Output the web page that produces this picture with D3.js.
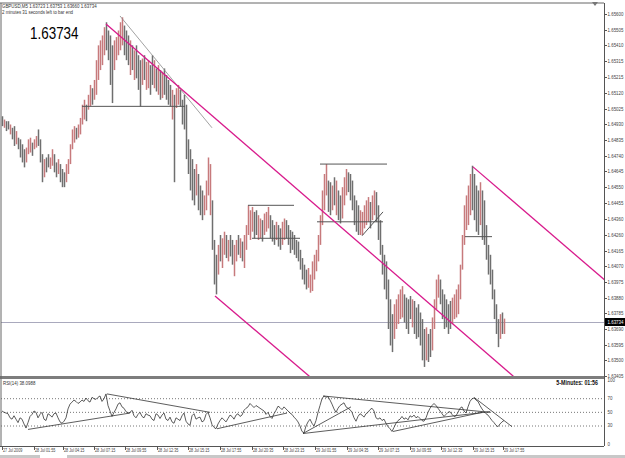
<!DOCTYPE html>
<html>
<head>
<meta charset="utf-8">
<script src="https://cdn.jsdelivr.net/npm/d3@7"></script>
<style>
body { margin: 0; background: #fff; }
svg { display: block; }
text { font-family: "Liberation Sans", Arial, sans-serif; }
</style>
</head>
<body>
<div id="chart"></div>
<script>
const width = 625, height = 458;

// GBPUSD M5 bars (two real bars per entry), high / low and direction (u = up, d = down)
const highs = [
  1.6498,1.6496,1.6495,1.6495,1.6493,1.6491,1.6492,1.6489,1.6485,1.6484,
  1.6481,1.6478,1.6479,1.6484,1.6485,1.6482,1.6484,1.6486,1.6490,1.6484,
  1.6475,1.6472,1.6473,1.6475,1.6473,1.6478,1.6475,1.6470,1.6472,1.6469,
  1.6466,1.6464,1.6469,1.6472,1.6481,1.6490,1.6492,1.6491,1.6493,1.6497,
  1.6505,1.6508,1.6505,1.6511,1.6517,1.6515,1.6520,1.6532,1.6541,1.6544,
  1.6547,1.6552,1.6555,1.6550,1.6547,1.6541,1.6544,1.6546,1.6550,1.6555,
  1.6558,1.6553,1.6550,1.6547,1.6544,1.6541,1.6538,1.6541,1.6535,1.6532,
  1.6533,1.6535,1.6531,1.6532,1.6529,1.6535,1.6532,1.6527,1.6529,1.6526,
  1.6525,1.6527,1.6523,1.6520,1.6517,1.6514,1.6511,1.6515,1.6517,1.6514,
  1.6508,1.6511,1.6505,1.6484,1.6478,1.6472,1.6466,1.6469,1.6463,1.6456,
  1.6453,1.6450,1.6459,1.6473,1.6469,1.6447,1.6423,1.6414,1.6420,1.6426,
  1.6424,1.6428,1.6426,1.6423,1.6426,1.6423,1.6420,1.6423,1.6426,1.6424,
  1.6422,1.6426,1.6432,1.6444,1.6441,1.6443,1.6440,1.6441,1.6438,1.6436,
  1.6435,1.6439,1.6440,1.6443,1.6438,1.6435,1.6432,1.6434,1.6432,1.6430,
  1.6434,1.6436,1.6435,1.6432,1.6429,1.6428,1.6426,1.6423,1.6422,1.6417,
  1.6412,1.6408,1.6405,1.6406,1.6402,1.6410,1.6414,1.6417,1.6426,1.6438,
  1.6453,1.6463,1.6469,1.6459,1.6458,1.6456,1.6461,1.6459,1.6453,1.6450,
  1.6455,1.6461,1.6466,1.6464,1.6463,1.6459,1.6450,1.6447,1.6444,1.6441,
  1.6440,1.6444,1.6447,1.6449,1.6446,1.6450,1.6453,1.6452,1.6444,1.6435,
  1.6420,1.6414,1.6410,1.6399,1.6387,1.6378,1.6384,1.6387,1.6390,1.6393,
  1.6395,1.6390,1.6388,1.6387,1.6389,1.6387,1.6386,1.6382,1.6384,1.6379,
  1.6375,1.6369,1.6370,1.6366,1.6369,1.6376,1.6387,1.6399,1.6402,1.6399,
  1.6393,1.6390,1.6387,1.6384,1.6386,1.6388,1.6390,1.6393,1.6396,1.6408,
  1.6426,1.6444,1.6450,1.6456,1.6463,1.6468,1.6463,1.6456,1.6453,1.6458,
  1.6453,1.6447,1.6432,1.6420,1.6414,1.6405,1.6393,1.6384,1.6375,1.6378,
  1.6379,1.63753
];
const lows = [
  1.6492,1.6491,1.6489,1.6490,1.6487,1.6484,1.6480,1.6481,1.6478,1.6473,
  1.6470,1.6467,1.6470,1.6475,1.6476,1.6474,1.6478,1.6479,1.6480,1.6470,
  1.6458,1.6461,1.6464,1.6467,1.6466,1.6468,1.6464,1.6461,1.6463,1.6458,
  1.6455,1.6455,1.6458,1.6463,1.6469,1.6478,1.6482,1.6484,1.6485,1.6487,
  1.6493,1.6496,1.6495,1.6502,1.6504,1.6505,1.6508,1.6511,1.6520,1.6526,
  1.6529,1.6535,1.6538,1.6532,1.6517,1.6506,1.6526,1.6532,1.6535,1.6538,
  1.6541,1.6535,1.6532,1.6529,1.6523,1.6526,1.6520,1.6521,1.6514,1.6504,
  1.6517,1.6520,1.6514,1.6515,1.6511,1.6517,1.6515,1.6513,1.6511,1.6508,
  1.6509,1.6511,1.6508,1.6505,1.6504,1.6496,1.6458,1.6503,1.6505,1.6504,
  1.6493,1.6490,1.6472,1.6463,1.6453,1.6447,1.6444,1.6450,1.6441,1.6438,
  1.6435,1.6438,1.6441,1.6450,1.6438,1.6417,1.6396,1.6390,1.6402,1.6410,
  1.6406,1.6414,1.6412,1.6410,1.6413,1.6408,1.6401,1.6410,1.6414,1.6412,
  1.6410,1.6406,1.6417,1.6426,1.6423,1.6428,1.6424,1.6426,1.6423,1.6424,
  1.6422,1.6426,1.6428,1.6430,1.6424,1.6422,1.6420,1.6423,1.6419,1.6417,
  1.6420,1.6423,1.6424,1.6420,1.6415,1.6417,1.6414,1.6412,1.6410,1.6405,
  1.6399,1.6396,1.6393,1.6394,1.6391,1.6392,1.6399,1.6404,1.6410,1.6420,
  1.6432,1.6441,1.6450,1.6440,1.6438,1.6441,1.6444,1.6438,1.6435,1.6433,
  1.6436,1.6444,1.6450,1.6452,1.6447,1.6441,1.6432,1.6428,1.6426,1.6426,
  1.6426,1.6430,1.6432,1.6434,1.6430,1.6435,1.6438,1.6434,1.6423,1.6414,
  1.6402,1.6393,1.6387,1.6369,1.6359,1.6355,1.6363,1.6369,1.6372,1.6375,
  1.6376,1.6373,1.6369,1.6366,1.6375,1.6370,1.6366,1.6363,1.6364,1.6359,
  1.6350,1.6346,1.6350,1.6349,1.6352,1.6356,1.6369,1.6381,1.6388,1.6384,
  1.6375,1.6369,1.6370,1.6366,1.6369,1.6372,1.6375,1.6376,1.6378,1.6387,
  1.6405,1.6420,1.6429,1.6432,1.6438,1.6441,1.6435,1.6428,1.6426,1.6432,
  1.6423,1.6420,1.6411,1.6402,1.6396,1.6387,1.6375,1.6366,1.6358,1.6363,
  1.6366,1.63660
];
const dirs =
  "dudduddudd" + "dduuuduudd" + "dudduuddud" + "dduuuuuduu" + "uuduuduuuu" +
  "uudddduuuu" + "udddududdd" + "uduuddudud" + "udddduduud" + "dddddddudd" +
  "duuuudddud" + "uududduudu" + "duuuuudduu" + "duuudddudd" + "uudddddddd" +
  "ddduuuuuuu" + "uuuddududd" + "uuuddddddu" + "uuuuduuddd" + "dddddduuuu" +
  "uddddudddd" + "ddudduuuud" + "ddddduuuuu" + "uuuuuddddu" + "dddddddddu" + "du";

// RSI(14), one value per bar entry
const rsiValues = [
  52,50,49,48,42,40,45,40,35,42, 40,33,27,35,44,47,52,50,42,47,
  50,40,38,48,46,43,48,49,42,36, 34,37,42,55,62,65,68,66,63,65,
  68,66,71,67,65,72,70,69,72,74, 66,70,77,60,52,44,50,55,62,64,
  58,56,51,49,50,53,45,42,47,50, 44,42,48,46,45,40,38,48,46,41,
  46,49,40,38,43,36,34,42,40,38, 45,49,37,33,31,45,48,40,42,43,
  36,38,47,50,42,32,28,26,33,38, 42,39,36,41,46,44,40,46,48,44,
  46,53,56,58,63,60,57,60,58,56, 54,52,47,50,44,41,48,53,59,57,
  54,58,55,52,49,47,43,40,36,30, 22,20,30,36,40,34,30,38,50,60,
  70,74,72,73,68,62,55,50,56,60, 62,64,58,56,54,50,42,37,44,48,
  46,43,48,50,54,56,52,42,40,42, 38,40,34,29,26,22,28,34,38,40,
  44,40,42,39,45,43,46,42,44,41, 38,37,42,50,56,60,63,60,56,52,
  48,44,47,50,51,47,44,45,50,56, 58,52,49,58,66,70,71,68,66,60,
  55,51,48,46,42,38,35,31,29,33, 36,38.0988
];

const priceTicks = ["1.65600","1.65505","1.65410","1.65315","1.65215","1.65120","1.65025","1.64930",
  "1.64835","1.64740","1.64645","1.64550","1.64455","1.64360","1.64260","1.64165","1.64070",
  "1.63975","1.63880","1.63785","1.63690","1.63595","1.63500","1.63405"];
const rsiTicks = [100, 70, 50, 30, 0];
const rsiLevels = [70, 50, 30];
const timeLabels = ["27 Jul 2009","28 Jul 01:55","28 Jul 04:15","28 Jul 07:15","28 Jul 09:55","28 Jul 12:35",
  "28 Jul 15:15","28 Jul 17:55","28 Jul 20:35","28 Jul 23:15","29 Jul 01:55","29 Jul 04:35",
  "29 Jul 07:15","29 Jul 09:55","29 Jul 12:35","29 Jul 15:15","29 Jul 17:55"];
const timeBars = [0,16,30.5,46,61.5,77.5,93,109,125,140.5,156.5,172.5,188,204,219.5,235.5,250.5];

const lastPrice = 1.63734;
const ohlc = ["1.63723","1.63753","1.63660","1.63734"];

// drawn objects: [bar1, value1, bar2, value2]
const channelLines = [[52,1.6554,256,1.6340],[106.5,1.6389,154,1.6340],[235.5,1.64673,302,1.6398]];
const levelLines = [[40,1.6504,91.5,1.6504],[123,1.6444,146,1.6444],[125,1.6424,149,1.6424],
  [159,1.6469,192.5,1.6469],[157.5,1.6434,190.5,1.6434],[180,1.64255,190.5,1.6440],[231.5,1.6425,245,1.6425]];
const thinLines = [[59,1.65588,105,1.6491]];
const rsiLines = [[13,25,64,49],[52.5,77,104,50],[107.5,26,142.5,49],[150.5,19,174.5,58],
  [150.5,19,244,51],[195.5,22,240,50],[160.5,74,244,50],[236,72,255,29]];

const svg = d3.select("#chart").append("svg")
    .attr("width", width)
    .attr("height", height);

const axisX = 604, mainTop = 3, mainBot = 376, rsiTop = 379, rsiBot = 446;

const x = d3.scaleLinear().domain([0, highs.length - 1]).range([2, 504]);
const y = d3.scaleLinear().domain([1.63405, 1.65600]).range([376, 14]);
const yR = d3.scaleLinear().domain([0, 100]).range([446.5, 378.2]);

const defs = svg.append("defs");
defs.append("clipPath").attr("id", "mainClip").append("rect")
    .attr("x", 1).attr("y", mainTop).attr("width", axisX - 1).attr("height", mainBot - mainTop);
defs.append("clipPath").attr("id", "rsiClip").append("rect")
    .attr("x", 1).attr("y", rsiTop).attr("width", axisX - 1).attr("height", rsiBot - rsiTop);

function tinyText(g, tx, ty, str, size, sx, opts) {
    opts = opts || {};
    return g.append("text")
        .attr("transform", `translate(${tx},${ty}) scale(${sx},1)`)
        .attr("font-size", size)
        .attr("font-weight", opts.bold ? "bold" : null)
        .attr("fill", opts.fill || "#222")
        .attr("text-anchor", opts.anchor || "start")
        .attr("dominant-baseline", "middle")
        .text(str);
}

// frame
svg.append("rect").attr("width", width).attr("height", height).attr("fill", "#fff");

const main = svg.append("g").attr("clip-path", "url(#mainClip)");

// current price line
main.append("line")
    .attr("x1", 1).attr("x2", axisX)
    .attr("y1", Math.round(y(lastPrice)) + 0.5).attr("y2", Math.round(y(lastPrice)) + 0.5)
    .attr("stroke", "#a9a9bd").attr("stroke-width", 1);

// bars
main.append("g")
  .selectAll("line")
  .data(highs.map((h, i) => ({i, h, l: lows[i], up: dirs[i] === "u"})))
  .join("line")
    .attr("x1", d => x(d.i) + 0.5)
    .attr("x2", d => x(d.i) + 0.5)
    .attr("y1", d => y(d.h))
    .attr("y2", d => y(d.l))
    .attr("stroke", d => d.up ? "#c77a7c" : "#6f6f6f")
    .attr("stroke-width", 1.5);

const seg = (sel, data, yScale) => sel.selectAll("line")
    .data(data)
    .join("line")
    .attr("x1", d => x(d[0])).attr("y1", d => yScale(d[1]))
    .attr("x2", d => x(d[2])).attr("y2", d => yScale(d[3]));

seg(main.append("g").attr("stroke", "#8a8a8a").attr("stroke-width", 0.8), thinLines, y);
seg(main.append("g").attr("stroke", "#555").attr("stroke-width", 1), levelLines, y);
seg(main.append("g").attr("stroke", "#d81b8c").attr("stroke-width", 1.3), channelLines, y);

// RSI panel
const rsi = svg.append("g").attr("clip-path", "url(#rsiClip)");
rsi.append("g").selectAll("line")
    .data(rsiLevels)
    .join("line")
    .attr("x1", 1).attr("x2", axisX)
    .attr("y1", d => yR(d)).attr("y2", d => yR(d))
    .attr("stroke", "#777").attr("stroke-width", 1).attr("stroke-dasharray", "1,2");

rsi.append("path")
    .datum(rsiValues)
    .attr("fill", "none")
    .attr("stroke", "#333")
    .attr("stroke-width", 0.8)
    .attr("d", d3.line().x((d, i) => x(i)).y(d => yR(d)));

seg(rsi.append("g").attr("stroke", "#333").attr("stroke-width", 0.8), rsiLines, yR);

// separators and borders
svg.append("rect").attr("x", 0).attr("y", mainBot).attr("width", axisX).attr("height", rsiTop - mainBot)
    .attr("fill", "#7d7d7d");
svg.append("line").attr("x1", 0).attr("x2", axisX).attr("y1", mainTop).attr("y2", mainTop)
    .attr("stroke", "#666");
svg.append("line").attr("x1", 1).attr("x2", 1).attr("y1", mainTop).attr("y2", rsiBot)
    .attr("stroke", "#666");
svg.append("line").attr("x1", axisX + 0.5).attr("x2", axisX + 0.5).attr("y1", mainTop).attr("y2", rsiBot)
    .attr("stroke", "#555");
svg.append("line").attr("x1", 0).attr("x2", axisX).attr("y1", rsiBot + 0.5).attr("y2", rsiBot + 0.5)
    .attr("stroke", "#555");
svg.append("rect").attr("x", 0).attr("y", 455).attr("width", width).attr("height", 3).attr("fill", "#c8c8c8");
svg.append("rect").attr("x", 40).attr("y", 455).attr("width", 27).attr("height", 3).attr("fill", "#fff");

// chart shift marker
svg.append("path").attr("d", "M592,2 L598,2 L595,6 Z").attr("fill", "#777");

// price axis
const pAxis = svg.append("g");
priceTicks.forEach(t => {
    const ty = Math.round(y(+t)) + 0.5;
    pAxis.append("line").attr("x1", axisX).attr("x2", axisX + 3).attr("y1", ty).attr("y2", ty)
        .attr("stroke", "#555");
    tinyText(pAxis, axisX + 3.5, ty, t, 5.2, 0.85, {fill: "#444"});
});
const ly = Math.round(y(lastPrice));
pAxis.append("rect").attr("x", axisX + 1).attr("y", ly - 4).attr("width", width - axisX - 1).attr("height", 8)
    .attr("fill", "#000");
tinyText(pAxis, axisX + 3.5, ly + 0.3, lastPrice.toFixed(5), 5.2, 0.85, {fill: "#fff"});

// RSI axis
rsiTicks.forEach(t => {
    tinyText(pAxis, axisX + 3.5, yR(t) + (t === 100 ? 2.5 : t === 0 ? -2 : 0), String(t), 5.2, 0.85, {fill: "#444"});
});

// time axis
const tAxis = svg.append("g");
timeLabels.forEach((t, i) => {
    const tx = Math.round(x(timeBars[i])) + 0.5;
    tAxis.append("line").attr("x1", tx).attr("x2", tx).attr("y1", rsiBot).attr("y2", rsiBot + 4)
        .attr("stroke", "#555");
    tinyText(tAxis, tx + 0.5, 451, t, 5.2, 0.72, {fill: "#444"});
});

// texts
tinyText(svg, 2, 6.5, "GBPUSD,M5  " + ohlc.join(" "), 5.2, 0.85, {fill: "#333"});
tinyText(svg, 2, 12.5, "2 minutes 31 seconds left to bar end", 5.2, 0.85, {fill: "#333"});
tinyText(svg, 30, 35, lastPrice.toFixed(5), 16, 0.84, {fill: "#000"});
tinyText(svg, 3, 384, "RSI(14) " + rsiValues[rsiValues.length - 1].toFixed(4), 5.2, 0.85, {fill: "#333"});
tinyText(svg, 598, 383.5, "5-Minutes:  01:56", 7.2, 0.74, {fill: "#111", bold: true, anchor: "end"});
</script>
</body>
</html>
